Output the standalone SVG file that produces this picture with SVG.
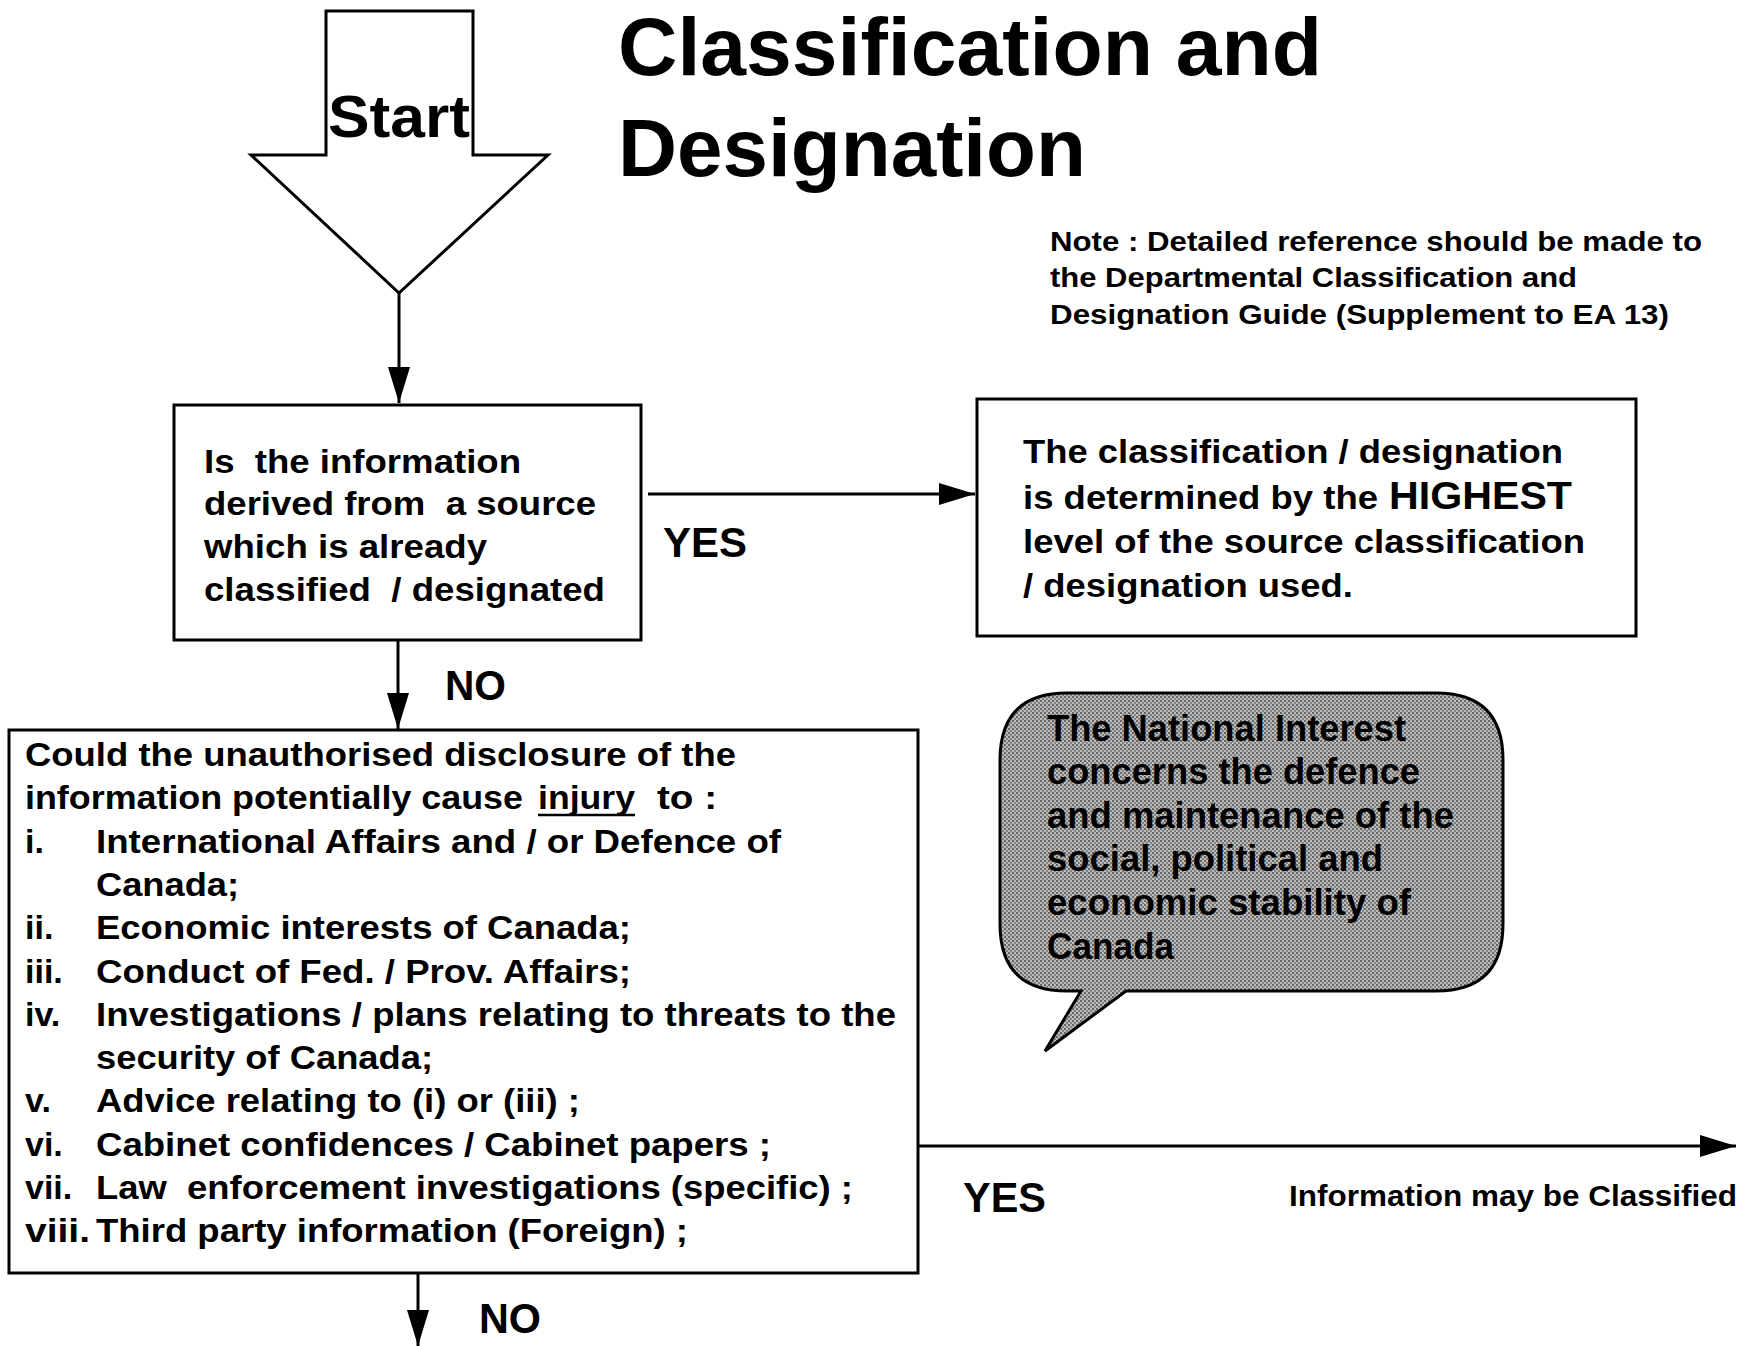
<svg xmlns="http://www.w3.org/2000/svg" width="1756" height="1346" viewBox="0 0 1756 1346">
<style>
  text { font-family: "Liberation Sans", Arial, sans-serif; font-weight: bold; fill: #000; white-space: pre; }
  .box { fill: #fff; stroke: #000; stroke-width: 3; }
  .conn { stroke: #000; stroke-width: 3; fill: none; }
  .body { font-size: 34px; }
  .list { font-size: 34px; }
  .lbl { font-size: 42px; }
  .note { font-size: 28px; }
  .bub { font-size: 36px; }
  .title { font-size: 82px; }
</style>
<defs>
  <marker id="ah" markerUnits="userSpaceOnUse" markerWidth="36" markerHeight="22" refX="36" refY="11" orient="auto" viewBox="0 0 36 22">
    <path d="M0,0 L36,11 L0,22 z" fill="#000"/>
  </marker>
  <pattern id="dither" patternUnits="userSpaceOnUse" width="4" height="4">
    <rect width="4" height="4" fill="#bcbcbc"/>
    <rect x="0" y="0" width="2" height="2" fill="#666"/>
    <rect x="2" y="2" width="2" height="2" fill="#808080"/>
  </pattern>
</defs>
<rect width="1756" height="1346" fill="#fff"/>

<g id="title">
  <text class="title" x="618" y="75" textLength="704" lengthAdjust="spacingAndGlyphs">Classification and</text>
  <text class="title" x="618" y="176" textLength="468" lengthAdjust="spacingAndGlyphs">Designation</text>
</g>

<g id="note">
  <text class="note" x="1050" y="251" textLength="652" lengthAdjust="spacingAndGlyphs">Note : Detailed reference should be made to</text>
  <text class="note" x="1050" y="287" textLength="527" lengthAdjust="spacingAndGlyphs">the Departmental Classification and</text>
  <text class="note" x="1050" y="324" textLength="619" lengthAdjust="spacingAndGlyphs">Designation Guide (Supplement to EA 13)</text>
</g>

<g id="start">
  <path class="box" d="M326,11 L473,11 L473,155 L548,155 L399,293 L251,155 L326,155 Z"/>
  <text x="328" y="137" font-size="60" textLength="142" lengthAdjust="spacingAndGlyphs">Start</text>
</g>

<g id="q1">
  <rect class="box" x="174" y="405" width="467" height="235"/>
  <text class="body" x="204" y="473" textLength="317" lengthAdjust="spacingAndGlyphs" xml:space="preserve">Is  the information</text>
  <text class="body" x="204" y="515" textLength="392" lengthAdjust="spacingAndGlyphs" xml:space="preserve">derived from  a source</text>
  <text class="body" x="204" y="558" textLength="283" lengthAdjust="spacingAndGlyphs">which is already</text>
  <text class="body" x="204" y="601" textLength="401" lengthAdjust="spacingAndGlyphs" xml:space="preserve">classified  / designated</text>
</g>

<g id="r1">
  <rect class="box" x="977" y="399" width="659" height="237"/>
  <text class="body" x="1023" y="463" textLength="540" lengthAdjust="spacingAndGlyphs">The classification / designation</text>
  <text class="body" x="1023" y="509" textLength="355" lengthAdjust="spacingAndGlyphs">is determined by the</text>
  <text x="1389" y="509" font-size="38" textLength="183" lengthAdjust="spacingAndGlyphs">HIGHEST</text>
  <text class="body" x="1023" y="553" textLength="562" lengthAdjust="spacingAndGlyphs">level of the source classification</text>
  <text class="body" x="1023" y="597" textLength="330" lengthAdjust="spacingAndGlyphs">/ designation used.</text>
</g>

<g id="q2">
  <rect class="box" x="9" y="730" width="909" height="543"/>
  <text class="list" x="25" y="766" textLength="711" lengthAdjust="spacingAndGlyphs">Could the unauthorised disclosure of the</text>
  <text class="list" x="25" y="809" textLength="498" lengthAdjust="spacingAndGlyphs">information potentially cause</text>
  <text class="list" x="538" y="809" textLength="97" lengthAdjust="spacingAndGlyphs">injury</text>
  <text class="list" x="657" y="809" textLength="60" lengthAdjust="spacingAndGlyphs">to :</text>
  <line x1="538" y1="815" x2="635" y2="815" stroke="#000" stroke-width="2.5"/>
  <text class="list" x="25" y="853">i.</text>
  <text class="list" x="96" y="853" textLength="685" lengthAdjust="spacingAndGlyphs">International Affairs and / or Defence of</text>
  <text class="list" x="96" y="896" textLength="143" lengthAdjust="spacingAndGlyphs">Canada;</text>
  <text class="list" x="25" y="939">ii.</text>
  <text class="list" x="96" y="939" textLength="535" lengthAdjust="spacingAndGlyphs">Economic interests of Canada;</text>
  <text class="list" x="25" y="983">iii.</text>
  <text class="list" x="96" y="983" textLength="535" lengthAdjust="spacingAndGlyphs">Conduct of Fed. / Prov. Affairs;</text>
  <text class="list" x="25" y="1026">iv.</text>
  <text class="list" x="96" y="1026" textLength="800" lengthAdjust="spacingAndGlyphs">Investigations / plans relating to threats to the</text>
  <text class="list" x="96" y="1069" textLength="337" lengthAdjust="spacingAndGlyphs">security of Canada;</text>
  <text class="list" x="25" y="1112">v.</text>
  <text class="list" x="96" y="1112" textLength="484" lengthAdjust="spacingAndGlyphs">Advice relating to (i) or (iii) ;</text>
  <text class="list" x="25" y="1156">vi.</text>
  <text class="list" x="96" y="1156" textLength="675" lengthAdjust="spacingAndGlyphs">Cabinet confidences / Cabinet papers ;</text>
  <text class="list" x="25" y="1199">vii.</text>
  <text class="list" x="96" y="1199" textLength="757" lengthAdjust="spacingAndGlyphs" xml:space="preserve">Law  enforcement investigations (specific) ;</text>
  <text class="list" x="25" y="1242" textLength="65" lengthAdjust="spacingAndGlyphs">viii.</text>
  <text class="list" x="96" y="1242" textLength="592" lengthAdjust="spacingAndGlyphs">Third party information (Foreign) ;</text>
</g>

<g id="bubble">
  <path d="M1067,693 L1436,693 Q1503,693 1503,760 L1503,924 Q1503,991 1436,991 L1126,991 L1045,1051 L1081,991 L1067,991 Q1000,991 1000,924 L1000,760 Q1000,693 1067,693 Z" fill="url(#dither)" stroke="#000" stroke-width="3"/>
  <text class="bub" x="1047" y="741" textLength="359" lengthAdjust="spacingAndGlyphs">The National Interest</text>
  <text class="bub" x="1047" y="784" textLength="373" lengthAdjust="spacingAndGlyphs">concerns the defence</text>
  <text class="bub" x="1047" y="828" textLength="407" lengthAdjust="spacingAndGlyphs">and maintenance of the</text>
  <text class="bub" x="1047" y="871" textLength="336" lengthAdjust="spacingAndGlyphs">social, political and</text>
  <text class="bub" x="1047" y="915" textLength="364" lengthAdjust="spacingAndGlyphs">economic stability of</text>
  <text class="bub" x="1047" y="959" textLength="127" lengthAdjust="spacingAndGlyphs">Canada</text>
</g>

<g id="connectors">
  <line class="conn" x1="399" y1="293" x2="399" y2="403" marker-end="url(#ah)"/>
  <line class="conn" x1="648" y1="494" x2="975" y2="494" marker-end="url(#ah)"/>
  <line class="conn" x1="398" y1="640" x2="398" y2="729" marker-end="url(#ah)"/>
  <line class="conn" x1="918" y1="1146" x2="1736" y2="1146" marker-end="url(#ah)"/>
  <line class="conn" x1="418" y1="1273" x2="418" y2="1346" marker-end="url(#ah)"/>
  <text class="lbl" x="663" y="557" textLength="84" lengthAdjust="spacingAndGlyphs">YES</text>
  <text class="lbl" x="445" y="700" textLength="61" lengthAdjust="spacingAndGlyphs">NO</text>
  <text class="lbl" x="963" y="1212" textLength="83" lengthAdjust="spacingAndGlyphs">YES</text>
  <text x="1289" y="1206" font-size="29" textLength="448" lengthAdjust="spacingAndGlyphs">Information may be Classified</text>
  <text class="lbl" x="479" y="1333" textLength="62" lengthAdjust="spacingAndGlyphs">NO</text>
</g>
</svg>
